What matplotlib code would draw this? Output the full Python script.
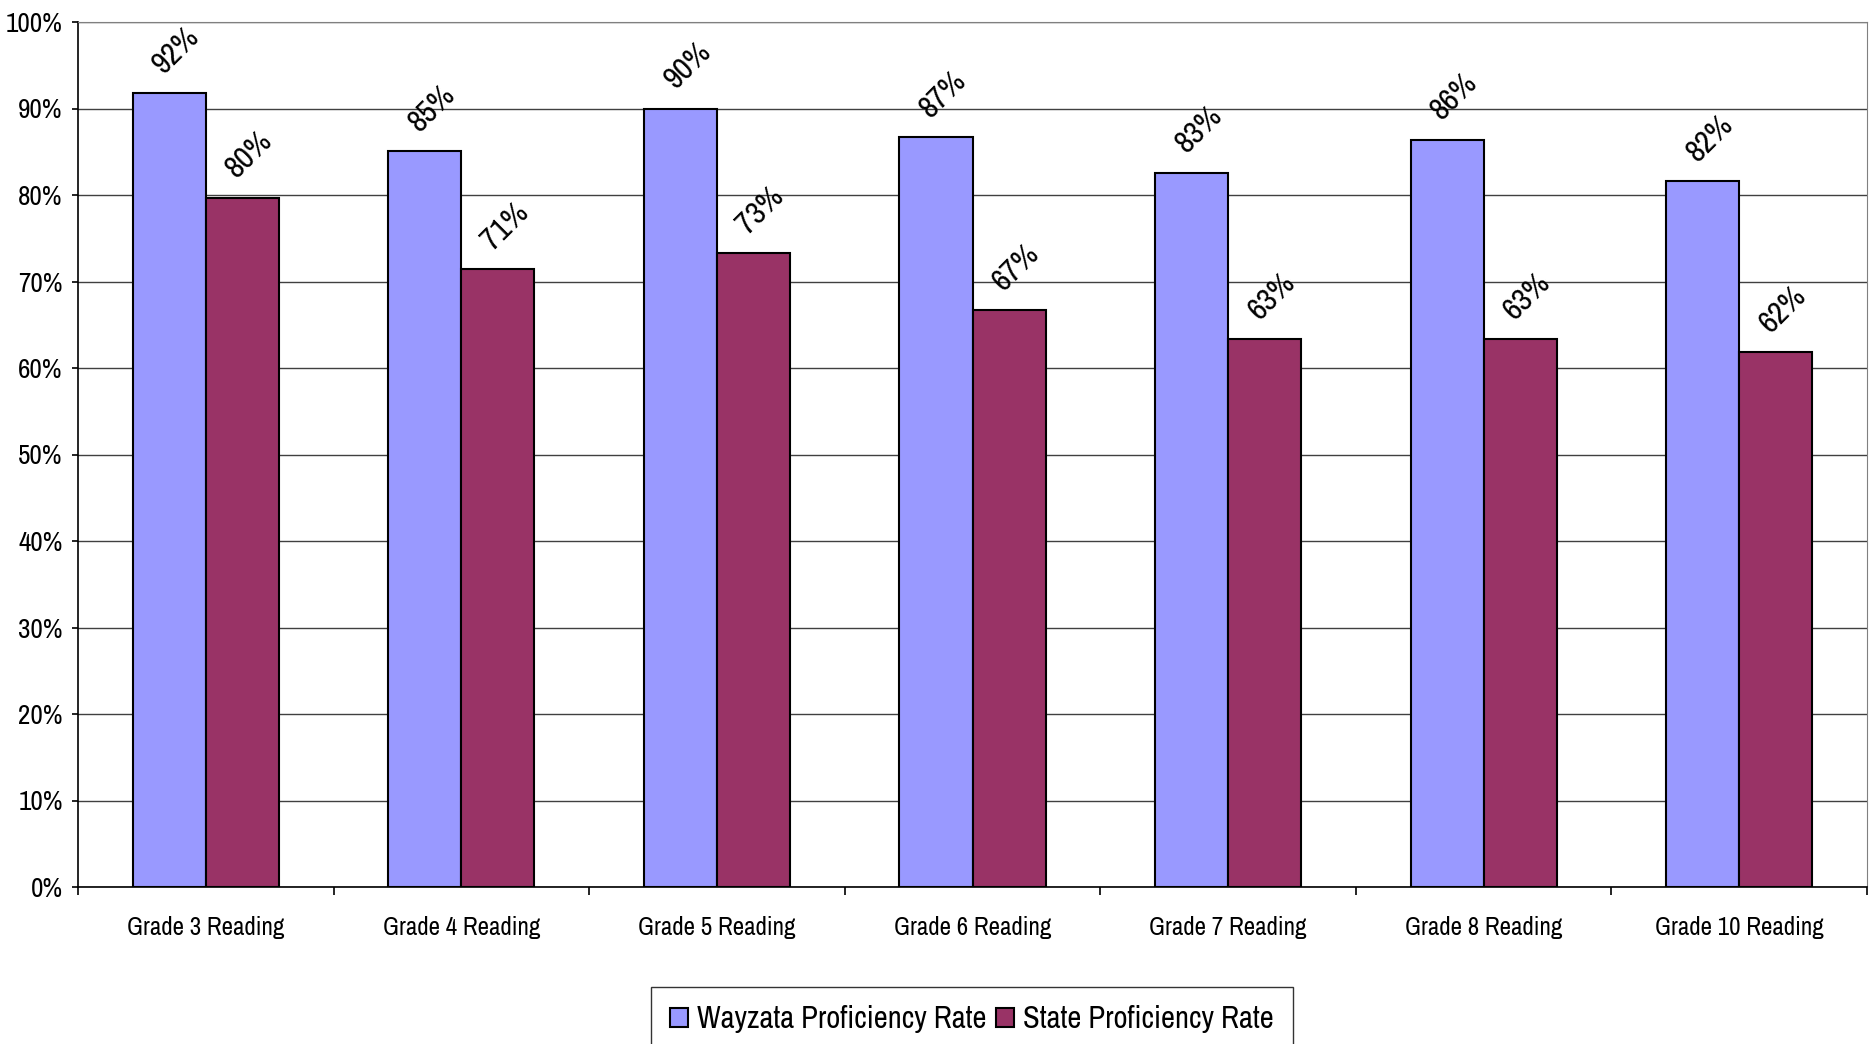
import numpy as np
import matplotlib.pyplot as plt
from matplotlib.ticker import PercentFormatter

# Datos
grades = ['Grade 3 Reading', 'Grade 4 Reading', 'Grade 5 Reading', 'Grade 6 Reading',
          'Grade 7 Reading', 'Grade 8 Reading', 'Grade 10 Reading']
wayzata = [91.8, 85.1, 90.0, 86.7, 82.6, 86.4, 81.6]
state = [79.7, 71.4, 73.3, 66.7, 63.3, 63.3, 61.8]

plt.rcParams['font.family'] = ['Archivo Narrow', 'Roboto Condensed', 'DejaVu Sans']

fig = plt.figure(figsize=(18.73, 10.44), dpi=100)
ax = fig.add_axes([78 / 1873, 1 - 887 / 1044, (1867 - 78) / 1873, (887 - 22) / 1044])

x = np.arange(len(grades))
w = 1 / 3.5

b1 = ax.bar(x - w / 2, wayzata, w, color='#9999FF', edgecolor='black', linewidth=1.5,
            label='Wayzata Proficiency Rate', zorder=3)
b2 = ax.bar(x + w / 2, state, w, color='#993366', edgecolor='black', linewidth=1.5,
            label='State Proficiency Rate', zorder=3)

# Etiquetas de datos giradas
for bars, vals in [(b1, wayzata), (b2, state)]:
    for rect, v in zip(bars, vals):
        ax.annotate(f'{v:.0f}%', (rect.get_x() + rect.get_width() / 2, v),
                    xytext=(5, 31), textcoords='offset points',
                    ha='center', va='center', rotation=45, fontsize=23)

ax.set_ylim(0, 100)
ax.set_xlim(-0.5, len(grades) - 0.5)
ax.set_yticks(np.arange(0, 101, 10))
ax.yaxis.set_major_formatter(PercentFormatter(decimals=0))
ax.tick_params(axis='y', labelsize=19.5, length=4, width=1.2, pad=7)

ax.set_xticks(np.arange(-0.5, len(grades)), labels=[])
ax.tick_params(axis='x', which='major', length=6, width=1.2)
ax.set_xticks(x, labels=grades, minor=True)
ax.tick_params(axis='x', which='minor', length=0, labelsize=18, pad=21)

ax.grid(axis='y', color='#404040', linewidth=1, zorder=0)
ax.spines['left'].set_linewidth(1.2)
ax.spines['bottom'].set_linewidth(1.2)
ax.spines['top'].set_color('#808080')
ax.spines['right'].set_color('#808080')

leg = fig.legend(loc='upper center', bbox_to_anchor=(972 / 1873, 1 - 987 / 1044), ncol=2,
                 fontsize=22, frameon=True, fancybox=False, edgecolor='black',
                 handlelength=0.6, handleheight=0.6, handletextpad=0.3, columnspacing=0.3,
                 borderpad=0.6, borderaxespad=0)
leg.get_frame().set_linewidth(1)

fig.savefig('out.png', dpi=100)
